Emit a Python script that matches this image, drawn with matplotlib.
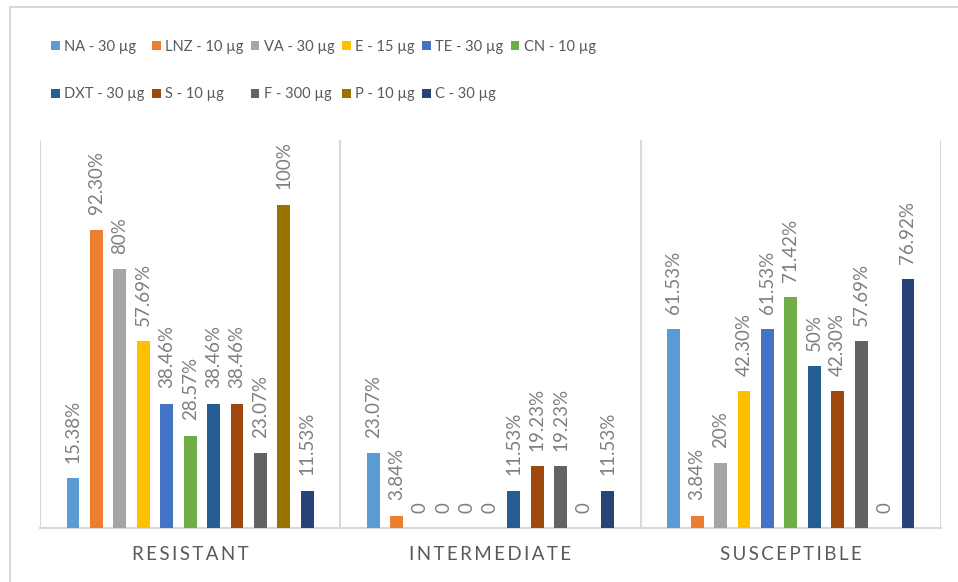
import matplotlib.pyplot as plt
import numpy as np
from matplotlib.lines import Line2D

plt.rcParams['font.family'] = ['Lato', 'DejaVu Sans']

categories = ['RESISTANT', 'INTERMEDIATE', 'SUSCEPTIBLE']
antibiotics = ['NA - 30 µg', 'LNZ - 10 µg', 'VA - 30 µg', 'E - 15 µg', 'TE - 30 µg', 'CN - 10 µg',
               'DXT - 30 µg', 'S - 10 µg', 'F - 300 µg', 'P - 10 µg', 'C - 30 µg']
resistant = [15.38, 92.30, 80, 57.69, 38.46, 28.57, 38.46, 38.46, 23.07, 100, 11.53]
intermediate = [23.07, 3.84, 0, 0, 0, 0, 11.53, 19.23, 19.23, 0, 11.53]
susceptible = [61.53, 3.84, 20, 42.30, 61.53, 71.42, 50, 42.30, 57.69, 0, 76.92]
colors = ['#5B9BD5', '#ED7D31', '#A5A5A5', '#FFC000', '#4472C4', '#70AD47',
          '#255E91', '#9E480E', '#636363', '#997300', '#264478']

values = np.array([resistant, intermediate, susceptible])  # rows: category, cols: antibiotic


def fmt(v):
    if v == 0:
        return '0'
    if float(v).is_integer():
        return '%d%%' % v
    return '%.2f%%' % v


fig = plt.figure(figsize=(9.58, 5.82), dpi=100)
ax = fig.add_axes([40 / 958, 1 - 528 / 582, 901 / 958, 388 / 582])

x = np.arange(len(categories))
n = len(antibiotics)
slot = 0.078
width = 0.043
grey = '#D9D9D9'
text_grey = '#7F7F7F'

handles = []
for i, name in enumerate(antibiotics):
    pos = x + (i - (n - 1) / 2) * slot
    vals = values[:, i]
    bars = ax.bar(pos, vals, width, color=colors[i], label=name, zorder=3)
    handles.append(bars)
    for b, v in zip(bars, vals):
        ax.annotate(fmt(v), (b.get_x() + b.get_width() / 2, v),
                    xytext=(0, 11), textcoords='offset points',
                    rotation=90, ha='center', va='bottom',
                    fontsize=13.5, color=text_grey)

ax.set_xlim(-0.5, 2.5)
ax.set_ylim(0, 120)
ax.set_yticks([])
ax.set_xticks(x)
ax.set_xticklabels(['\u2009'.join(c) for c in categories], fontsize=13.5, color='#595959')
ax.tick_params(axis='x', length=0, pad=13)
for s in ['top', 'right', 'left']:
    ax.spines[s].set_visible(False)
ax.spines['bottom'].set_color(grey)
ax.spines['bottom'].set_linewidth(1.5)
for b in [-0.5, 0.5, 1.5, 2.5]:
    ax.axvline(b, color=grey, lw=1.5, zorder=1)

# legend filled row by row, like the original
order = [0, 6, 1, 7, 2, 8, 3, 9, 4, 10, 5]
ax.legend([handles[k] for k in order], [antibiotics[k] for k in order],
          loc='upper left', bbox_to_anchor=(45 / 958, 1 - 34 / 582), bbox_transform=fig.transFigure,
          ncol=6, frameon=False, labelcolor='#595959', fontsize=10.5,
          handlelength=0.6, handleheight=0.6, handletextpad=0.3,
          columnspacing=0.5, labelspacing=2.3, borderaxespad=0)

# outer chart border
fig.add_artist(Line2D([10 / 958, 10 / 958], [0, 1 - 7 / 582], color=grey, lw=1.5))
fig.add_artist(Line2D([10 / 958, 1], [1 - 7 / 582, 1 - 7 / 582], color=grey, lw=1.5))

fig.savefig('out.png', dpi=100)
